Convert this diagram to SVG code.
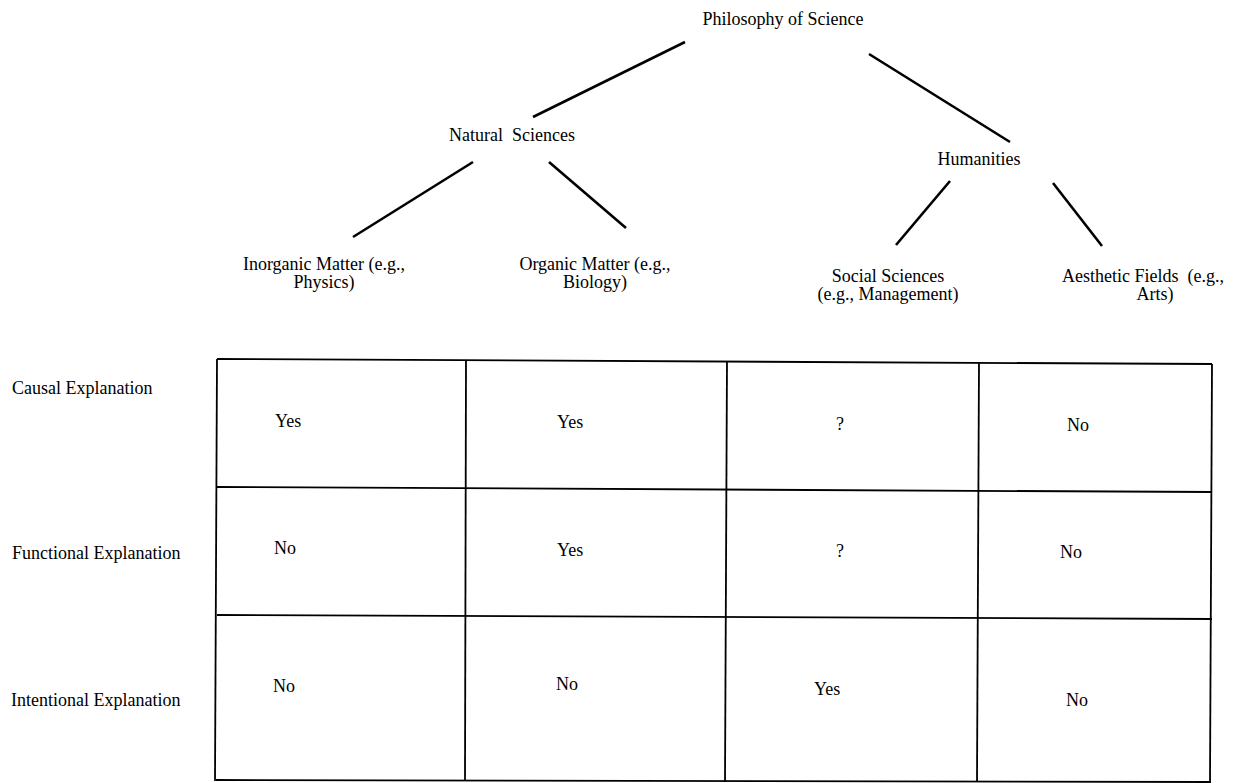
<svg xmlns="http://www.w3.org/2000/svg" width="1237" height="783" viewBox="0 0 1237 783">
<style>
text{font-family:"Liberation Serif","Times New Roman",serif;font-size:18px;fill:#000}
.m{text-anchor:middle}
.edge{stroke:#000;stroke-width:2.6;stroke-linecap:butt;fill:none}
.grid{stroke:#000;stroke-width:1.8;fill:none}
</style>
<rect width="1237" height="783" fill="#fff"/>
<g id="connectors">
<line class="edge" x1="685" y1="42" x2="533" y2="117"/>
<line class="edge" x1="869" y1="54" x2="1010" y2="142"/>
<line class="edge" x1="473" y1="162" x2="353" y2="237"/>
<line class="edge" x1="549" y1="162" x2="626" y2="228"/>
<line class="edge" x1="950" y1="181" x2="896" y2="245"/>
<line class="edge" x1="1053" y1="183" x2="1102" y2="246"/>
</g>
<g id="node-philosophy"><text class="m" x="783" y="25">Philosophy of Science</text></g>
<g id="node-natural"><text class="m" x="512" y="141" xml:space="preserve">Natural  Sciences</text></g>
<g id="node-humanities"><text class="m" x="979" y="165">Humanities</text></g>
<g id="node-inorganic"><text class="m" x="324" y="270">Inorganic Matter (e.g.,</text><text class="m" x="324" y="288">Physics)</text></g>
<g id="node-organic"><text class="m" x="595" y="270">Organic Matter (e.g.,</text><text class="m" x="595" y="288">Biology)</text></g>
<g id="node-social"><text class="m" x="888" y="282">Social Sciences</text><text class="m" x="888" y="300">(e.g., Management)</text></g>
<g id="node-aesthetic"><text x="1062" y="282" xml:space="preserve">Aesthetic Fields  (e.g.,</text><text class="m" x="1155" y="300">Arts)</text></g>
<g id="row-labels">
<text x="12" y="394">Causal Explanation</text>
<text x="12" y="559">Functional Explanation</text>
<text x="11" y="706">Intentional Explanation</text>
</g>
<g id="table">
<line class="grid" x1="217" y1="359" x2="1212" y2="364"/>
<line class="grid" x1="217" y1="487" x2="1212" y2="492"/>
<line class="grid" x1="217" y1="615" x2="1212" y2="619"/>
<line class="grid" x1="216" y1="780" x2="1211" y2="782"/>
<line class="grid" x1="217" y1="359" x2="215" y2="781"/>
<line class="grid" x1="466" y1="360" x2="465" y2="781"/>
<line class="grid" x1="727" y1="361" x2="725" y2="782"/>
<line class="grid" x1="979" y1="363" x2="977" y2="782"/>
<line class="grid" x1="1212" y1="364" x2="1210" y2="782"/>
</g>
<g id="cells">
<text x="275" y="427">Yes</text>
<text x="557" y="428">Yes</text>
<text class="m" x="840" y="430">?</text>
<text x="1067" y="431">No</text>
<text x="274" y="554">No</text>
<text x="557" y="556">Yes</text>
<text class="m" x="840" y="557">?</text>
<text x="1060" y="558">No</text>
<text x="273" y="692">No</text>
<text x="556" y="690">No</text>
<text x="814" y="695">Yes</text>
<text x="1066" y="706">No</text>
</g>
</svg>
